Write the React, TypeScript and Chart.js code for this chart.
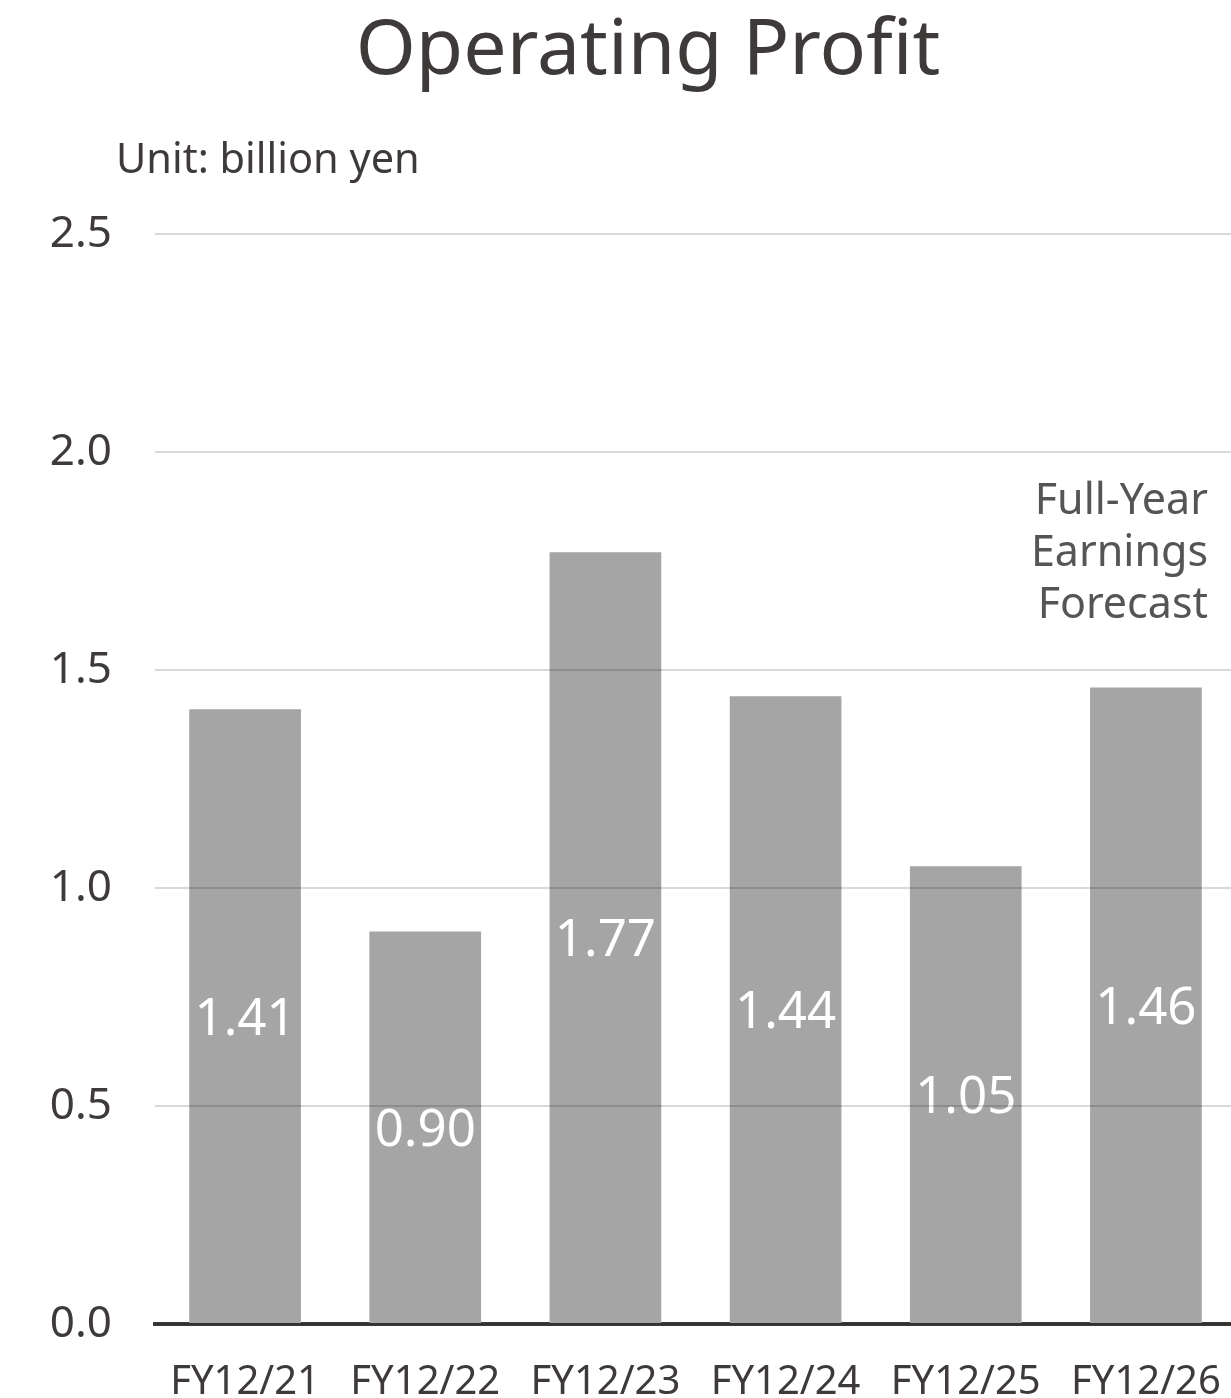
import React, { useEffect, useRef } from "react";
import { Chart, registerables } from "chart.js";

Chart.register(...registerables);

const categories = ["FY12/21", "FY12/22", "FY12/23", "FY12/24", "FY12/25", "FY12/26"];
const operatingProfit = [1.41, 0.9, 1.77, 1.44, 1.05, 1.46];
const valueLabels = ["1.41", "0.90", "1.77", "1.44", "1.05", "1.46"];
const yTicks = [0, 0.5, 1.0, 1.5, 2.0, 2.5];
const titleText = "Operating Profit";
const unitText = "Unit: billion yen";
const forecastLines = ["Full-Year", "Earnings", "Forecast"];

const FONT = "'Noto Sans', sans-serif";
const DARK = "#3d3a39";

const textPlugin = {
  id: "textPlugin",
  afterDatasetsDraw(chart: any) {
    const { ctx } = chart;
    const meta = chart.getDatasetMeta(0);
    ctx.save();
    ctx.fillStyle = "#ffffff";
    ctx.font = `51px ${FONT}`;
    ctx.textAlign = "center";
    ctx.textBaseline = "middle";
    meta.data.forEach((bar: any, i: number) => {
      const mid = (bar.y + bar.base) / 2;
      ctx.fillText(valueLabels[i], bar.x, mid + 4);
    });
    ctx.restore();
  },
  afterDraw(chart: any) {
    const { ctx } = chart;
    ctx.save();
    ctx.fillStyle = DARK;
    ctx.textBaseline = "middle";
    ctx.textAlign = "center";
    ctx.font = `77px ${FONT}`;
    ctx.fillText(titleText, 648, 52);
    ctx.textAlign = "left";
    ctx.font = `41.5px ${FONT}`;
    ctx.fillText(unitText, 116, 161);
    ctx.textAlign = "right";
    ctx.fillStyle = "#555555";
    ctx.font = `43px ${FONT}`;
    forecastLines.forEach((t, i) => ctx.fillText(t, 1208, 502 + i * 52));
    ctx.restore();
  },
};

export default function App() {
  const ref = useRef<HTMLCanvasElement | null>(null);
  useEffect(() => {
    document.body.style.margin = "0";
    const chart = new Chart(ref.current!, {
      type: "bar",
      data: {
        labels: categories,
        datasets: [
          {
            data: operatingProfit,
            backgroundColor: "#a5a5a5",
            barPercentage: 0.62,
            categoryPercentage: 1,
          },
        ],
      },
      options: {
        animation: false,
        responsive: false,
        maintainAspectRatio: false,
        layout: { padding: { top: 234, right: 24, left: 0, bottom: 0 } },
        plugins: { legend: { display: false }, tooltip: { enabled: false }, title: { display: false } },
        scales: {
          x: {
            grid: { display: false, drawTicks: false },
            border: { display: true, color: DARK, width: 4 },
            ticks: { color: DARK, font: { family: FONT, size: 40 }, padding: 35, maxRotation: 0 },
            afterFit: (s: any) => {
              s.height = 74;
            },
          },
          y: {
            min: 0,
            max: 2.5,
            afterBuildTicks: (s: any) => {
              s.ticks = yTicks.map((v) => ({ value: v }));
            },
            grid: { color: "rgba(0,0,0,0.15)", lineWidth: 2, drawTicks: false, z: 1 },
            border: { display: false },
            ticks: {
              color: DARK,
              font: { family: FONT, size: 44 },
              padding: 43,
              callback: (v: any) => Number(v).toFixed(1),
            },
            afterFit: (s: any) => {
              s.width = 155;
            },
          },
        },
      },
      plugins: [textPlugin],
    });
    return () => chart.destroy();
  }, []);
  return (
    <div style={{ position: "relative", width: 1231, height: 1398, overflow: "hidden", background: "#fff" }}>
      <canvas ref={ref} width={1260} height={1398} style={{ display: "block", width: 1260, height: 1398 }} />
    </div>
  );
}
